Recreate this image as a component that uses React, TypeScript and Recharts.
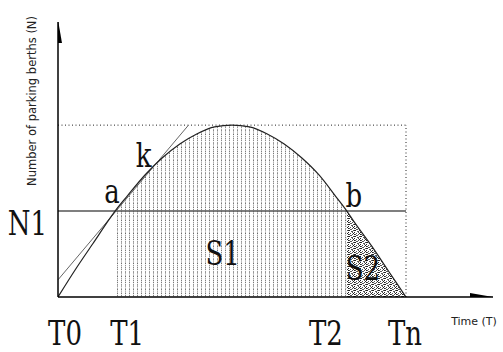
import { ComposedChart, Line, Area, XAxis, YAxis, ReferenceLine, Scatter, Label } from 'recharts';

// time positions (T0 = 0 ... Tn = 100) and occupied berths along the curve
const times = [0, 5, 10, 15, 16.4, 20, 25, 30, 35, 40, 45, 50, 55, 60, 65, 70, 75, 80, 83, 85, 90, 95, 100];
const berths = [0, 16, 31, 46, 50, 59, 71, 81, 89, 95, 99, 100, 99, 95, 89, 81, 71, 58, 50, 44, 30, 15, 0];

const T1 = 16.4;
const T2 = 83;
const TN = 100;
const N1 = 50;
const PEAK = 100;

const timeTicks = [0, T1, T2, TN];
const timeTickLabels = ['T0', 'T1', 'T2', 'Tn'];

// line k
const tangentTimes = [0, 37.5];
const tangentBerths = [10, 100];

// letters placed on the plot (time, berths, text)
const markTimes = [15.5, 24.6, 85, 47.3, 87.6];
const markBerths = [54.7, 75.6, 52.4, 18.6, 9.9];
const markTexts = ['a', 'k', 'b', 'S1', 'S2'];

const X_MAX = 125;
const Y_MAX = 160;

const data = times.map((t, i) => ({
    t,
    n: berths[i],
    s1: t >= T1 && t <= T2 ? berths[i] : null,
    s2: t >= T2 && t <= TN ? berths[i] : null,
}));

const marks = markTimes.map((t, i) => ({ t, n: markBerths[i], text: markTexts[i] }));

const SERIF = '"DejaVu Serif", "Liberation Serif", serif';
const SANS = '"DejaVu Sans", sans-serif';

// horizontal nudges for the big T labels
const tickShift = [7, 12, -21, -1];

// speckle positions for the S2 fill
const speckX = [0, 2, 4, 1, 3, 5, 0, 2, 4, 5, 1, 3, 0, 4];
const speckY = [0, 1, 0, 2, 3, 2, 4, 5, 4, 5, 0, 1, 2, 3];

function BigText({ x, y, text, anchor = 'middle' }: { x: number; y: number; text: string; anchor?: string }) {
    return (
        <text
            transform={`translate(${x},${y}) scale(1,1.3)`}
            textAnchor={anchor}
            style={{ fontFamily: SERIF, fontSize: 26, fill: '#111' }}>
            {text}
        </text>
    );
}

function TimeTick(props: any) {
    const { x, y, index } = props;
    return <BigText x={x + tickShift[index]} y={y + 48} text={timeTickLabels[index]} />;
}

function BerthTick(props: any) {
    const { y } = props;
    return <BigText x={47} y={y + 24} text="N1" anchor="end" />;
}

function MarkShape(props: any) {
    const { cx, cy, payload } = props;
    return <BigText x={cx} y={cy} text={payload.text} />;
}

function UpArrow(props: any) {
    const { cx, cy } = props;
    return <polygon points={`${cx},${cy - 2} ${cx - 4},${cy + 21} ${cx + 4},${cy + 21}`} fill="#000" />;
}

function RightArrow(props: any) {
    const { cx, cy } = props;
    return <polygon points={`${cx},${cy} ${cx - 23},${cy - 4} ${cx - 23},${cy + 4}`} fill="#000" />;
}

export default function App() {
    return (
        <div style={{ position: 'absolute', left: 0, top: 0, width: 503, height: 352, background: '#fff' }}>
            <ComposedChart width={503} height={352} data={data} margin={{ top: 22, right: 10, bottom: 0, left: 0 }}>
                <defs>
                    <pattern id="dotsS1" width="4" height="4.3" patternUnits="userSpaceOnUse">
                        <rect x="1" y="0.5" width="1" height="1" fill="#333" />
                        <rect x="1" y="2.5" width="1" height="1" fill="#777" />
                    </pattern>
                    <pattern id="dotsS2" width="6" height="6" patternUnits="userSpaceOnUse">
                        {speckX.map((sx, i) => (
                            <rect key={i} x={sx} y={speckY[i]} width="1" height="1" fill={i % 3 === 0 ? '#222' : '#555'} />
                        ))}
                    </pattern>
                </defs>
                <XAxis
                    dataKey="t"
                    type="number"
                    domain={[0, X_MAX]}
                    ticks={timeTicks}
                    tick={<TimeTick />}
                    tickLine={false}
                    tickSize={0}
                    tickMargin={0}
                    height={55}
                    axisLine={{ stroke: '#000', strokeWidth: 1.5 }}
                    allowDataOverflow>
                    <Label
                        content={(p: any) => (
                            <text
                                x={p.viewBox.x + p.viewBox.width - 19}
                                y={p.viewBox.y + 28}
                                textAnchor="middle"
                                style={{ fontFamily: SANS, fontSize: 11, fill: '#222' }}>
                                Time (T)
                            </text>
                        )}
                    />
                </XAxis>
                <YAxis
                    dataKey="n"
                    type="number"
                    domain={[0, Y_MAX]}
                    ticks={[N1]}
                    tick={<BerthTick />}
                    tickLine={false}
                    width={58}
                    axisLine={{ stroke: '#000', strokeWidth: 1.5 }}
                    allowDataOverflow>
                    <Label
                        content={() => (
                            <text
                                x={36}
                                y={101}
                                transform="rotate(-90, 36, 101)"
                                textAnchor="middle"
                                style={{ fontFamily: SANS, fontSize: 11.5, fill: '#222' }}>
                                Number of parking berths (N)
                            </text>
                        )}
                    />
                </YAxis>

                {/* shaded areas under the curve */}
                <Area dataKey="s1" type="monotone" stroke="none" fill="url(#dotsS1)" fillOpacity={1} isAnimationActive={false} />
                <Area dataKey="s2" type="monotone" stroke="none" fill="url(#dotsS2)" fillOpacity={1} isAnimationActive={false} />

                {/* peak box */}
                <ReferenceLine segment={[{ x: 0, y: PEAK }, { x: TN, y: PEAK }]} stroke="#222" strokeDasharray="1 2.5" />
                <ReferenceLine segment={[{ x: TN, y: 0 }, { x: TN, y: PEAK }]} stroke="#222" strokeDasharray="1 2.5" />

                {/* N1 level */}
                <ReferenceLine segment={[{ x: 0, y: N1 }, { x: TN, y: N1 }]} stroke="#555" strokeWidth={1.6} />

                {/* line k */}
                <ReferenceLine
                    segment={[{ x: tangentTimes[0], y: tangentBerths[0] }, { x: tangentTimes[1], y: tangentBerths[1] }]}
                    stroke="#666"
                    strokeWidth={1} />

                <Line dataKey="n" type="monotone" stroke="#222" strokeWidth={1.2} dot={false} isAnimationActive={false} />

                <Scatter data={marks} dataKey="n" shape={<MarkShape />} isAnimationActive={false} />
                <Scatter data={[{ t: 0, n: Y_MAX }]} dataKey="n" shape={<UpArrow />} isAnimationActive={false} />
                <Scatter data={[{ t: X_MAX, n: 0 }]} dataKey="n" shape={<RightArrow />} isAnimationActive={false} />
            </ComposedChart>
        </div>
    );
}
